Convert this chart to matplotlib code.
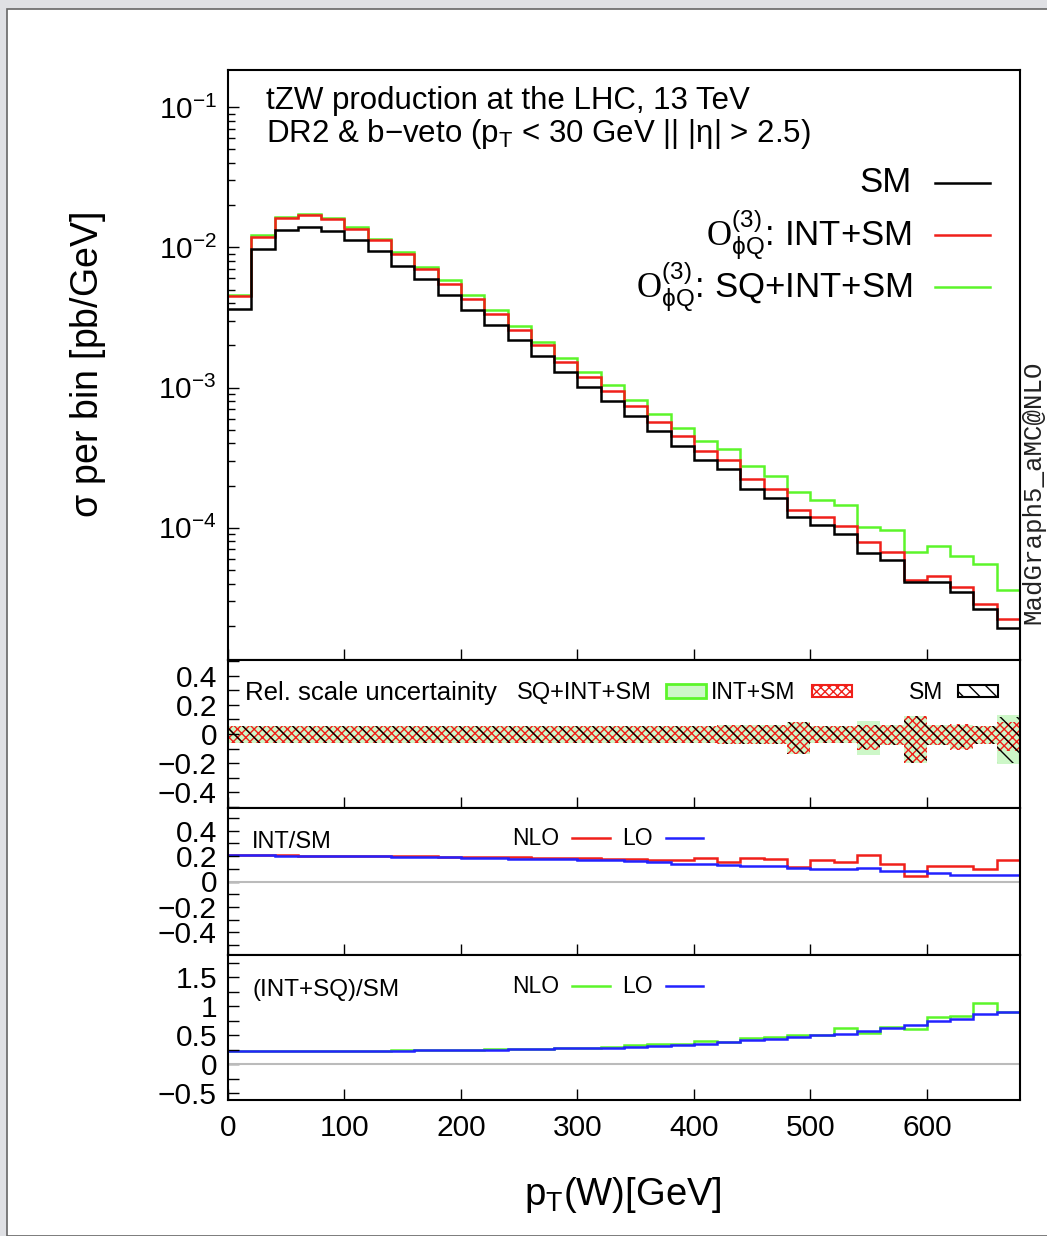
import numpy as np
import matplotlib.pyplot as plt
from matplotlib.lines import Line2D
from matplotlib.patches import Rectangle

plt.rcParams['font.family'] = ['Liberation Sans', 'DejaVu Sans']
plt.rcParams['mathtext.fontset'] = 'custom'
plt.rcParams['mathtext.rm'] = 'Liberation Sans'
plt.rcParams['mathtext.it'] = 'Liberation Sans:italic'
plt.rcParams['mathtext.bf'] = 'Liberation Serif'

W, H = 1047, 1236

# bins de 20 GeV, de 0 a 680
edges = np.arange(0, 700, 20)

# sigma por bin [pb/GeV]
sm = [3.66e-3, 9.8e-3, 1.32e-2, 1.39e-2, 1.31e-2, 1.13e-2, 9.4e-3, 7.4e-3, 5.9e-3, 4.6e-3,
      3.56e-3, 2.8e-3, 2.17e-3, 1.67e-3, 1.29e-3, 1.01e-3, 7.98e-4, 6.24e-4, 4.88e-4, 3.81e-4,
      3.03e-4, 2.64e-4, 1.9e-4, 1.63e-4, 1.2e-4, 1.04e-4, 9.06e-5, 6.59e-5, 5.9e-5, 4.09e-5,
      4.09e-5, 3.48e-5, 2.64e-5, 1.92e-5]
int_sm = [4.47e-3, 1.19e-2, 1.61e-2, 1.69e-2, 1.58e-2, 1.36e-2, 1.13e-2, 8.9e-3, 7.0e-3, 5.5e-3,
          4.3e-3, 3.36e-3, 2.57e-3, 2.0e-3, 1.52e-3, 1.19e-3, 9.4e-4, 7.36e-4, 5.69e-4, 4.49e-4,
          3.55e-4, 3.06e-4, 2.23e-4, 1.89e-4, 1.33e-4, 1.19e-4, 1.03e-4, 7.9e-5, 6.7e-5, 4.25e-5,
          4.56e-5, 3.81e-5, 2.86e-5, 2.23e-5]
sq_int_sm = [4.54e-3, 1.22e-2, 1.64e-2, 1.73e-2, 1.62e-2, 1.39e-2, 1.15e-2, 9.25e-3, 7.28e-3, 5.81e-3,
             4.54e-3, 3.55e-3, 2.73e-3, 2.13e-3, 1.63e-3, 1.29e-3, 1.05e-3, 8.2e-4, 6.5e-4, 5.15e-4,
             4.13e-4, 3.65e-4, 2.74e-4, 2.35e-4, 1.79e-4, 1.57e-4, 1.46e-4, 1.02e-4, 9.7e-5, 6.67e-5,
             7.44e-5, 6.3e-5, 5.53e-5, 3.61e-5]

# incerteza relativa de escala (cima / baixo)
sm_up = [0.055, 0.055, 0.055, 0.055, 0.055, 0.055, 0.055, 0.055, 0.055, 0.055, 0.055, 0.055,
         0.055, 0.055, 0.055, 0.055, 0.055, 0.055, 0.055, 0.055, 0.055, 0.06, 0.06, 0.06,
         0.085, 0.055, 0.055, 0.06, 0.06, 0.124, 0.06, 0.06, 0.055, 0.12]
sm_dn = [0.065, 0.065, 0.065, 0.065, 0.065, 0.065, 0.065, 0.065, 0.065, 0.065, 0.065, 0.065,
         0.065, 0.065, 0.065, 0.065, 0.065, 0.065, 0.065, 0.065, 0.065, 0.072, 0.072, 0.072,
         0.135, 0.065, 0.065, 0.1, 0.075, 0.198, 0.075, 0.09, 0.07, 0.2]
int_up = [0.055, 0.055, 0.055, 0.055, 0.055, 0.055, 0.055, 0.055, 0.055, 0.055, 0.055, 0.055,
          0.055, 0.055, 0.055, 0.055, 0.055, 0.055, 0.055, 0.055, 0.055, 0.06, 0.06, 0.06,
          0.085, 0.055, 0.055, 0.06, 0.06, 0.124, 0.06, 0.07, 0.055, 0.08]
int_dn = [0.065, 0.065, 0.065, 0.065, 0.065, 0.065, 0.065, 0.065, 0.065, 0.065, 0.065, 0.065,
          0.065, 0.065, 0.065, 0.065, 0.065, 0.065, 0.065, 0.065, 0.065, 0.072, 0.072, 0.072,
          0.138, 0.065, 0.065, 0.11, 0.075, 0.198, 0.075, 0.11, 0.07, 0.12]
sq_up = [0.055, 0.055, 0.055, 0.055, 0.055, 0.055, 0.055, 0.055, 0.055, 0.055, 0.055, 0.055,
         0.055, 0.055, 0.055, 0.055, 0.055, 0.055, 0.055, 0.055, 0.055, 0.06, 0.06, 0.06,
         0.085, 0.055, 0.055, 0.088, 0.06, 0.124, 0.06, 0.065, 0.055, 0.13]
sq_dn = [0.065, 0.065, 0.065, 0.065, 0.065, 0.065, 0.065, 0.065, 0.065, 0.065, 0.065, 0.065,
         0.065, 0.065, 0.065, 0.065, 0.065, 0.065, 0.065, 0.065, 0.065, 0.072, 0.072, 0.072,
         0.135, 0.065, 0.065, 0.146, 0.075, 0.198, 0.075, 0.1, 0.07, 0.21]

# razoes INT/SM
int_nlo = [0.208, 0.207, 0.206, 0.205, 0.204, 0.203, 0.201, 0.199, 0.198, 0.196, 0.194, 0.192,
           0.19, 0.188, 0.186, 0.184, 0.18, 0.176, 0.171, 0.169, 0.182, 0.15, 0.184, 0.176,
           0.116, 0.169, 0.156, 0.208, 0.137, 0.045, 0.124, 0.119, 0.095, 0.169]
int_lo = [0.208, 0.207, 0.205, 0.204, 0.202, 0.2, 0.198, 0.196, 0.193, 0.19, 0.187, 0.184,
          0.181, 0.178, 0.175, 0.171, 0.167, 0.163, 0.155, 0.142, 0.142, 0.129, 0.124, 0.124,
          0.103, 0.098, 0.098, 0.103, 0.084, 0.084, 0.066, 0.05, 0.05, 0.05]

# razoes (INT+SQ)/SM
sq_nlo = [0.224, 0.225, 0.225, 0.226, 0.227, 0.229, 0.232, 0.235, 0.238, 0.243, 0.248, 0.253,
          0.26, 0.266, 0.275, 0.283, 0.29, 0.322, 0.34, 0.35, 0.39, 0.38, 0.45, 0.466,
          0.506, 0.506, 0.62, 0.535, 0.638, 0.61, 0.81, 0.82, 1.05, 0.897]
sq_lo = [0.224, 0.224, 0.224, 0.225, 0.226, 0.228, 0.23, 0.233, 0.236, 0.24, 0.245, 0.25,
         0.255, 0.262, 0.27, 0.278, 0.285, 0.293, 0.31, 0.334, 0.35, 0.38, 0.408, 0.425,
         0.466, 0.495, 0.523, 0.563, 0.62, 0.667, 0.736, 0.782, 0.868, 0.897]

xticks = [0, 100, 200, 300, 400, 500, 600]
r2_ticks = [-0.4, -0.2, 0, 0.2, 0.4]
r2_labels = ['\u22120.4', '\u22120.2', '0', '0.2', '0.4']
r4_ticks = [-0.5, 0, 0.5, 1, 1.5]
r4_labels = ['\u22120.5', '0', '0.5', '1', '1.5']

GREEN = '#5cf52a'
RED = '#f0201a'
BLUE = '#2222ff'


def fx(x):
    return x / W


def fy(y):
    return 1 - y / H


fig = plt.figure(figsize=(W / 100, H / 100), dpi=100)
fig.patch.set_facecolor('#dfe0e4')
fig.add_artist(Rectangle((fx(7), 0), 1, fy(9), transform=fig.transFigure,
                         facecolor='white', edgecolor='#666666', lw=1.2, zorder=-10))


def painel(top, bottom):
    ax = fig.add_axes([fx(228), fy(bottom), (1020 - 228) / W, (bottom - top) / H])
    ax.set_xlim(0, 680)
    ax.set_xticks(xticks)
    for s in ax.spines.values():
        s.set_linewidth(1.5)
    ax.tick_params(axis='both', which='both', direction='in', labelsize=21.5, pad=8)
    ax.tick_params(which='major', length=8, width=1)
    ax.tick_params(which='minor', length=5, width=1)
    ax.tick_params(axis='x', labelbottom=False)
    return ax


# painel principal
ax1 = painel(70, 660)
ax1.set_yscale('log')
ax1.set_ylim(1.14e-5, 0.184)
ax1.stairs(sq_int_sm, edges, color=GREEN, lw=1.8, baseline=None)
ax1.stairs(int_sm, edges, color=RED, lw=1.8, baseline=None)
ax1.stairs(sm, edges, color='black', lw=1.8, baseline=None)

fig.text(fx(266), fy(109), 'tZW production at the LHC, 13 TeV', fontsize=22.5, va='baseline')
fig.text(fx(266), fy(142), r'DR2 & b$-$veto (p$_{\mathrm{T}}$ < 30 GeV || |$\mathrm{\eta}$| > 2.5)',
         fontsize=22.5, va='baseline')

leg = [('SM', 'black', 183),
       (r'$\mathbf{O}_{\mathrm{\phi Q}}^{\mathrm{(3)}}$: INT+SM', RED, 235),
       (r'$\mathbf{O}_{\mathrm{\phi Q}}^{\mathrm{(3)}}$: SQ+INT+SM', GREEN, 287)]
for lab, cor, y in leg:
    fig.text(fx(912), fy(y), lab, fontsize=25, ha='right', va='center')
    fig.add_artist(Line2D([fx(935), fx(990)], [fy(y), fy(y)], color=cor, lw=1.8,
                          transform=fig.transFigure))

fig.text(fx(1033), fy(492), 'MadGraph5_aMC@NLO', fontsize=18.5, family='Liberation Mono',
         rotation=90, ha='center', va='center', color='#222222')

fig.text(fx(88), fy(365), r'$\mathrm{\sigma}$ per bin [pb/GeV]', fontsize=27,
         rotation=90, ha='center', va='center')

# incerteza de escala
ax2 = painel(660, 808)
ax2.set_ylim(-0.51, 0.51)
ax2.set_yticks(r2_ticks, r2_labels)
ax2.set_yticks(np.arange(-0.5, 0.51, 0.1), minor=True)
ax2.tick_params(which='minor', length=8)
ax2.stairs(sq_up, edges, baseline=-np.array(sq_dn), fill=True, facecolor='#cdf7c8',
           edgecolor='none', lw=0)
ax2.stairs(int_up, edges, baseline=-np.array(int_dn), fill=True, facecolor='none',
           edgecolor=RED, hatch='xxxx', lw=0)
ax2.stairs(sm_up, edges, baseline=-np.array(sm_dn), fill=True, facecolor='none',
           edgecolor='black', hatch='\\\\', lw=0)

fig.text(fx(245), fy(700), 'Rel. scale uncertainity', fontsize=18.5, va='baseline')
fig.text(fx(517), fy(699), 'SQ+INT+SM', fontsize=17, va='baseline')
fig.add_artist(Rectangle((fx(666), fy(698)), (706 - 666) / W, 14 / H, transform=fig.transFigure,
                         facecolor='#cdf7c8', edgecolor=GREEN, lw=2))
fig.text(fx(711), fy(699), 'INT+SM', fontsize=16.5, va='baseline')
fig.add_artist(Rectangle((fx(812), fy(697)), 40 / W, 12 / H, transform=fig.transFigure,
                         facecolor='white', edgecolor=RED, hatch='xxxx', lw=1.5))
fig.text(fx(909), fy(699), 'SM', fontsize=16.5, va='baseline')
fig.add_artist(Rectangle((fx(958), fy(697)), 40 / W, 12 / H, transform=fig.transFigure,
                         facecolor='white', edgecolor='black', hatch='\\\\', lw=1.5))

# INT/SM
ax3 = painel(808, 955)
ax3.set_ylim(-0.58, 0.58)
ax3.set_yticks(r2_ticks, r2_labels)
ax3.set_yticks(np.arange(-0.5, 0.51, 0.1), minor=True)
ax3.tick_params(which='minor', length=8)
ax3.axhline(0, color='#bbbbbb', lw=1.5)
ax3.stairs(int_nlo, edges, color=RED, lw=1.8, baseline=None)
ax3.stairs(int_lo, edges, color=BLUE, lw=1.8, baseline=None)

fig.text(fx(252), fy(848), 'INT/SM', fontsize=17, va='baseline')
fig.text(fx(512), fy(845), 'NLO', fontsize=16.5, va='baseline')
fig.add_artist(Line2D([fx(572), fx(610)], [fy(838), fy(838)], color=RED, lw=1.8,
                      transform=fig.transFigure))
fig.text(fx(622), fy(845), 'LO', fontsize=16.5, va='baseline')
fig.add_artist(Line2D([fx(666), fx(703)], [fy(838), fy(838)], color=BLUE, lw=1.8,
                      transform=fig.transFigure))

# (INT+SQ)/SM
ax4 = painel(955, 1100)
ax4.set_ylim(-0.62, 1.88)
ax4.set_yticks(r4_ticks, r4_labels)
ax4.set_yticks(np.arange(-0.5, 1.76, 0.25), minor=True)
ax4.tick_params(which='minor', length=8)
ax4.axhline(0, color='#bbbbbb', lw=1.5)
ax4.stairs(sq_nlo, edges, color=GREEN, lw=1.8, baseline=None)
ax4.stairs(sq_lo, edges, color=BLUE, lw=1.8, baseline=None)
ax4.tick_params(axis='x', labelbottom=True, pad=10)

fig.text(fx(252), fy(996), '(INT+SQ)/SM', fontsize=17.5, va='baseline')
fig.text(fx(512), fy(993), 'NLO', fontsize=16.5, va='baseline')
fig.add_artist(Line2D([fx(572), fx(610)], [fy(986), fy(986)], color=GREEN, lw=1.8,
                      transform=fig.transFigure))
fig.text(fx(622), fy(993), 'LO', fontsize=16.5, va='baseline')
fig.add_artist(Line2D([fx(666), fx(703)], [fy(986), fy(986)], color=BLUE, lw=1.8,
                      transform=fig.transFigure))

fig.text(fx(623), fy(1195), r'p$_{\mathrm{T}}$(W)[GeV]', fontsize=27.5, ha='center', va='center')

fig.savefig('out.png', dpi=100, facecolor=fig.get_facecolor())
